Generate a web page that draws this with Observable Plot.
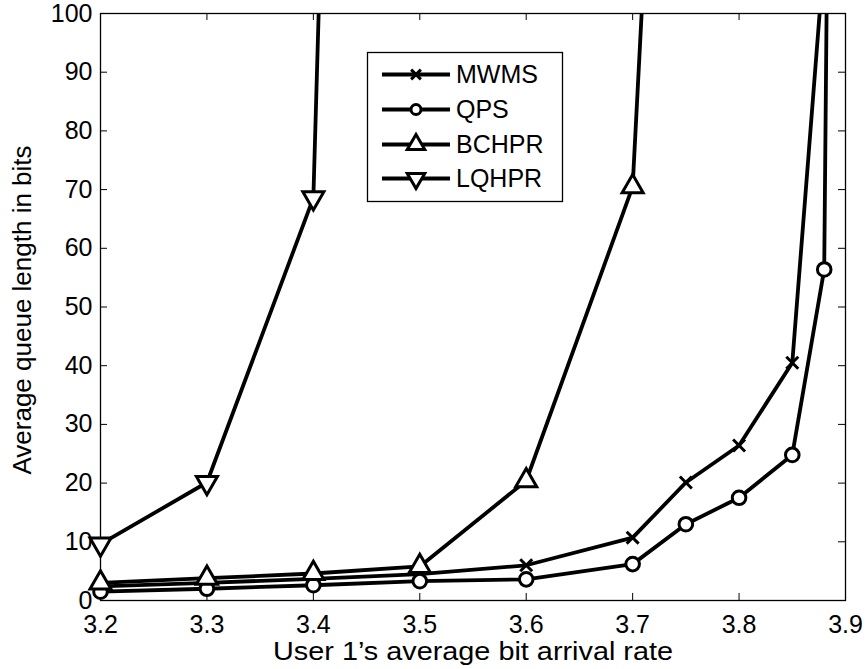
<!DOCTYPE html>
<html>
<head>
<meta charset="utf-8">
<script src="https://cdn.jsdelivr.net/npm/d3@7"></script>
<script src="https://cdn.jsdelivr.net/npm/@observablehq/plot@0.6"></script>
<style>
  body { margin: 0; background: #fff; }
  #wrap { position: relative; width: 866px; height: 669px; }
  #wrap svg { position: absolute; left: 0; top: 0; }
</style>
</head>
<body>
<div id="wrap"></div>
<script>
// ---- data ----
const seriesNames = ["MWMS", "QPS", "BCHPR", "LQHPR"];
const xMWMS = [3.2, 3.3, 3.4, 3.5, 3.6, 3.7, 3.75, 3.8, 3.85, 3.88];
const yMWMS = [2.4, 3.0, 3.7, 4.5, 6.0, 10.7, 20.1, 26.4, 40.5, 110];
const xQPS = [3.2, 3.3, 3.4, 3.5, 3.6, 3.7, 3.75, 3.8, 3.85, 3.88, 3.9];
const yQPS = [1.5, 2.0, 2.6, 3.3, 3.6, 6.2, 13.0, 17.5, 24.8, 56.4, 450];
const xBCHPR = [3.2, 3.3, 3.4, 3.5, 3.6, 3.7, 3.8];
const yBCHPR = [3.0, 3.8, 4.6, 5.8, 20.4, 70.5, 420];
const xLQHPR = [3.2, 3.3, 3.4, 3.5];
const yLQHPR = [9.6, 20.1, 68.6, 700];
const xTicks = [3.2, 3.3, 3.4, 3.5, 3.6, 3.7, 3.8, 3.9];
const yTicks = [0, 10, 20, 30, 40, 50, 60, 70, 80, 90, 100];
const xLabel = "User 1\u2019s average bit arrival rate";
const yLabel = "Average queue length in bits";

// ---- build ----
const triDown = {
  draw(ctx, size) {
    const y = Math.sqrt(size / (3 * Math.sqrt(3)));
    ctx.moveTo(0, 2 * y);
    ctx.lineTo(-Math.sqrt(3) * y, -y);
    ctx.lineTo(Math.sqrt(3) * y, -y);
    ctx.closePath();
  }
};
const toRows = (name, xs, ys) => xs.map((x, i) => ({series: name, x, y: ys[i]}));
const series = [
  {name: "MWMS", rows: toRows("MWMS", xMWMS, yMWMS), symbol: "times", r: 5.5, fill: "black"},
  {name: "QPS", rows: toRows("QPS", xQPS, yQPS), symbol: "circle", r: 6.8, fill: "white"},
  {name: "BCHPR", rows: toRows("BCHPR", xBCHPR, yBCHPR), symbol: "triangle", r: 7.8, fill: "white"},
  {name: "LQHPR", rows: toRows("LQHPR", xLQHPR, yLQHPR), symbol: triDown, r: 7.8, fill: "white"}
];

const W = 866, H = 669;
const FONT = "'Liberation Sans', Arial, Helvetica, sans-serif";
const marks = [];
// inward ticks on all four sides + frame
marks.push(Plot.ruleX(xTicks, {x: d => d, y1: 0, y2: 1.2, stroke: "black", strokeWidth: 1}));
marks.push(Plot.ruleX(xTicks, {x: d => d, y1: 100, y2: 98.8, stroke: "black", strokeWidth: 1}));
marks.push(Plot.ruleY(yTicks, {y: d => d, x1: 3.2, x2: 3.2066, stroke: "black", strokeWidth: 1}));
marks.push(Plot.ruleY(yTicks, {y: d => d, x1: 3.9, x2: 3.8934, stroke: "black", strokeWidth: 1}));
marks.push(Plot.frame({stroke: "black", strokeWidth: 1.3}));
for (const s of series) {
  marks.push(Plot.line(s.rows, {x: "x", y: "y", stroke: "black", strokeWidth: 3.8, clip: true}));
}
for (const s of series) {
  marks.push(Plot.dot(s.rows.filter(d => d.y <= 100), {x: "x", y: "y", symbol: () => s.symbol, r: s.r,
    stroke: "black", strokeWidth: 3, fill: s.fill}));
}
marks.push(Plot.text([xLabel], {text: d => d, frameAnchor: "bottom", dy: 51, textAnchor: "middle", lineAnchor: "middle", fontSize: 26}));
marks.push(Plot.text([yLabel], {text: d => d, frameAnchor: "left", dx: -78, dy: 3, rotate: -90, textAnchor: "middle", lineAnchor: "middle", fontSize: 26}));

const chart = Plot.plot({
  width: W, height: H,
  marginLeft: 100, marginRight: 21, marginTop: 13, marginBottom: 69,
  style: {fontFamily: FONT, fontSize: "25px", color: "black", background: "white", overflow: "visible"},
  x: {domain: [3.2, 3.9], ticks: xTicks, tickFormat: d3.format(".1f"), tickSize: 0, tickPadding: 15, label: null},
  y: {domain: [0, 100], ticks: yTicks, tickFormat: d3.format("d"), tickSize: 0, tickPadding: 8, label: null},
  marks
});
document.getElementById("wrap").appendChild(chart);
// widen the x label slightly to match the reference's proportions
d3.select(chart).selectAll("text").filter(function() { return this.textContent === xLabel; })
  .attr("textLength", 400).attr("lengthAdjust", "spacingAndGlyphs");

// ---- legend overlay ----
const lg = d3.select("#wrap").append("svg")
  .attr("width", W).attr("height", H)
  .style("pointer-events", "none")
  .style("font-family", FONT);
const box = {x: 367.5, y: 52.5, w: 195, h: 149};
lg.append("rect").attr("x", box.x).attr("y", box.y).attr("width", box.w).attr("height", box.h)
  .attr("fill", "white").attr("stroke", "black").attr("stroke-width", 1.3);
const rowY = [74.5, 109.5, 144.5, 178.5];
const symFor = {MWMS: d3.symbolTimes, QPS: d3.symbolCircle, BCHPR: d3.symbolTriangle, LQHPR: triDown};
const legR = {MWMS: 4.5, QPS: 5, BCHPR: 6.5, LQHPR: 6.5};
series.forEach((s, i) => {
  const y = rowY[i];
  lg.append("line").attr("x1", 382).attr("x2", 450).attr("y1", y).attr("y2", y)
    .attr("stroke", "black").attr("stroke-width", 3.8);
  lg.append("path").attr("transform", `translate(416,${y})`)
    .attr("d", d3.symbol(symFor[s.name], Math.PI * legR[s.name] ** 2)())
    .attr("fill", s.fill).attr("stroke", "black").attr("stroke-width", 3);
  lg.append("text").attr("x", 456).attr("y", y).attr("dy", "0.35em")
    .attr("font-size", 25).text(seriesNames[i]);
});
</script>
</body>
</html>
